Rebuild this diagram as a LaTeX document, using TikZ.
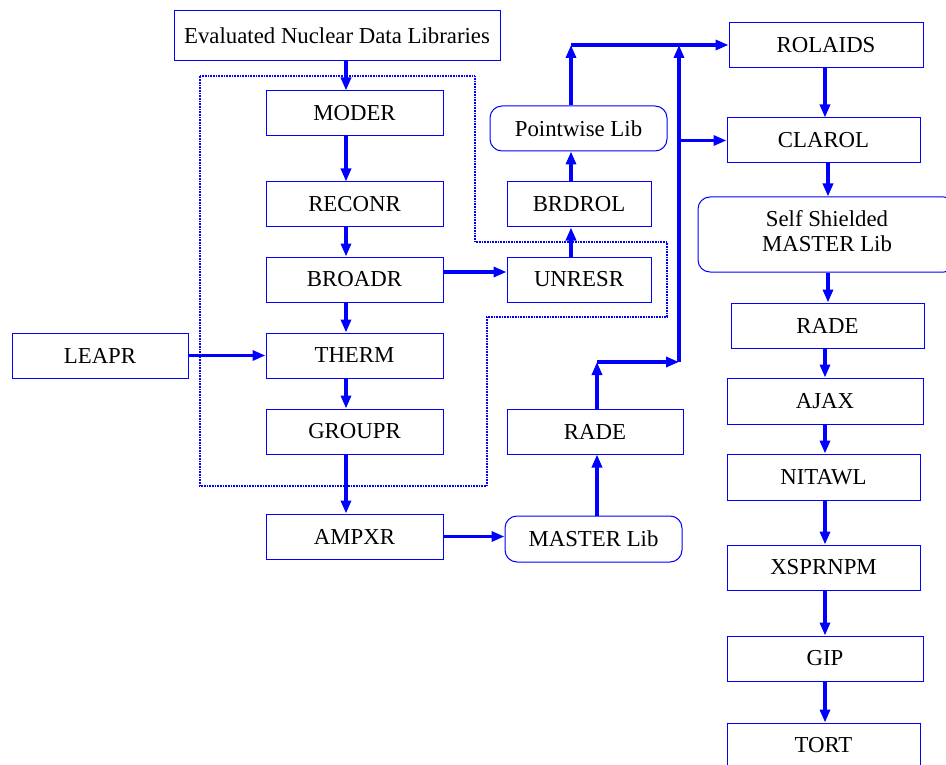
\documentclass[tikz,border=0pt]{standalone}
\usepackage{fontspec}
\setmainfont{Liberation Serif}
\usetikzlibrary{arrows.meta}
\begin{document}
\begin{tikzpicture}[x=1pt,y=-1pt,
  box/.style={draw=blue, line width=1pt, inner sep=0pt, minimum height=45pt,
    font=\fontsize{22.8}{25}\selectfont, text=black, align=center},
  rbox/.style={box, rounded corners=12pt},
  plain/.style={inner sep=0pt, font=\fontsize{22.8}{24.5}\selectfont, text=black, align=center},
  arr/.style={draw=blue, line width=3.2pt, -{Triangle[length=13pt,width=10pt]}},
  dotline/.style={draw=blue, line width=1.4pt, dash pattern=on 1pt off 0.6pt}]
\useasboundingbox (0,0) rectangle (946,765);
% nodes
\node[box, minimum width=326pt, minimum height=50pt] (eval) at (337,36) {Evaluated Nuclear Data Libraries};
\node[box, minimum width=177pt] (moder) at (354.5,113.5) {MODER};
\node[box, minimum width=177pt] (reconr) at (354.5,204.5) {RECONR};
\node[box, minimum width=177pt] (broadr) at (354.5,279.5) {BROADR};
\node[box, minimum width=177pt] (therm) at (354.5,355.5) {THERM};
\node[box, minimum width=177pt] (groupr) at (354.5,431.5) {GROUPR};
\node[box, minimum width=177pt] (ampxr) at (354.5,536.5) {AMPXR};
\node[box, minimum width=176pt] (leapr) at (100,355.5) {LEAPR};
\node[box, minimum width=144pt] (unresr) at (579,279.5) {UNRESR};
\node[box, minimum width=144pt] (brdrol) at (579,204.5) {BRDROL};
\node[rbox, minimum width=177pt] (pw) at (578.5,128.5) {Pointwise Lib};
\node[box, minimum width=176pt] (radem) at (595,431.5) {RADE};
\node[rbox, minimum width=177pt, minimum height=46pt] (master) at (593.5,539) {MASTER Lib};
\node[box, minimum width=194pt] (rolaids) at (826,45.5) {ROLAIDS};
\node[box, minimum width=193pt] (clarol) at (823.5,140.5) {CLAROL};
\node[rbox, minimum width=258pt, minimum height=75pt] (self) at (827,234.5) {};
\node[plain] (selftext) at (827,231) {Self Shielded\\MASTER Lib};
\node[box, minimum width=193pt] (rader) at (827.5,325.5) {RADE};
\node[box, minimum width=196pt, minimum height=46pt] (ajax) at (825,401) {AJAX};
\node[box, minimum width=193pt, minimum height=46pt] (nitawl) at (823.5,477) {NITAWL};
\node[box, minimum width=193pt] (xsprnpm) at (823.5,567.5) {XSPRNPM};
\node[box, minimum width=196pt] (gip) at (825,658.5) {GIP};
\node[box, minimum width=193pt] (tort) at (823.5,745.5) {TORT};
% dotted boundary
\draw[dotline] (200,76) -- (475,76) -- (475,242) -- (667,242) -- (667,317)
  -- (487,317) -- (487,486) -- (200,486) -- cycle;
% helper coordinates
\coordinate (lx) at (346,0);
\coordinate (mx) at (571,0);
\coordinate (px) at (597,0);
\coordinate (rx) at (825,0);
\coordinate (ry) at (828,0);
\coordinate (yb) at (0,272);
\coordinate (j1) at (597,362);
\coordinate (j2) at (679,362);
\coordinate (j3) at (679,45);
\coordinate (j4) at (571,45);
\coordinate (j5) at (679,140.5);
% left column
\draw[arr] (eval.south -| lx) -- (moder.north -| lx);
\draw[arr] (moder.south -| lx) -- (reconr.north -| lx);
\draw[arr] (reconr.south -| lx) -- (broadr.north -| lx);
\draw[arr] (broadr.south -| lx) -- (therm.north -| lx);
\draw[arr] (therm.south -| lx) -- (groupr.north -| lx);
\draw[arr] (groupr.south -| lx) -- (ampxr.north -| lx);
\draw[arr] (leapr.east) -- (therm.west);
\draw[arr] (broadr.east |- yb) -- (unresr.west |- yb);
\draw[arr] (ampxr.east) -- (ampxr.east -| master.west);
% middle
\draw[arr] (unresr.north -| mx) -- (brdrol.south -| mx);
\draw[arr] (brdrol.north -| mx) -- (pw.south -| mx);
\draw[arr] (pw.north -| j4) -- (j4);
\draw[arr] (j4) -- (rolaids.west |- j4);
\draw[arr] (master.north -| px) -- (radem.south -| px);
\draw[arr] (radem.north -| px) -- (j1);
\draw[arr] (j1) -- (j2);
\draw[arr] (j2) -- (j3);
\draw[arr] (j5) -- (clarol.west |- j5);
% right column
\draw[arr] (rolaids.south -| rx) -- (clarol.north -| rx);
\draw[arr] (clarol.south -| ry) -- (self.north -| ry);
\draw[arr] (self.south -| ry) -- (rader.north -| ry);
\draw[arr] (rader.south -| rx) -- (ajax.north -| rx);
\draw[arr] (ajax.south -| rx) -- (nitawl.north -| rx);
\draw[arr] (nitawl.south -| rx) -- (xsprnpm.north -| rx);
\draw[arr] (xsprnpm.south -| rx) -- (gip.north -| rx);
\draw[arr] (gip.south -| rx) -- (tort.north -| rx);
\end{tikzpicture}
\end{document}
